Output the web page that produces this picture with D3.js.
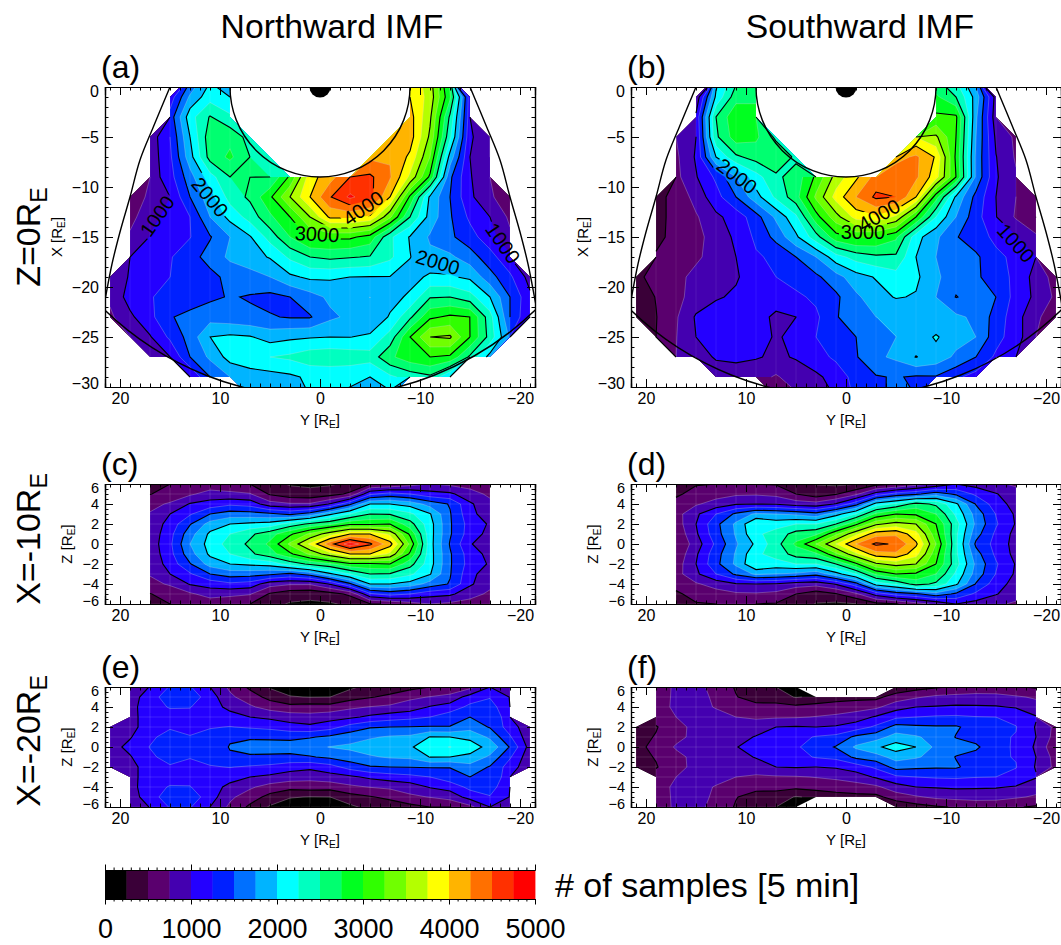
<!DOCTYPE html>
<html>
<head>
<meta charset="utf-8">
<style>
  html, body { margin: 0; background: #fff; overflow: hidden; }
  text { font-family: "Liberation Sans", Arial, sans-serif; fill: #000; }
  .domain { stroke: #000; stroke-width: 1.2; }
  .tick line { stroke: #000; stroke-width: 1; }
</style>
<script src="https://cdn.jsdelivr.net/npm/d3@7"></script>
</head>
<body>
<script>
var N = null;

var levels = d3.range(0, 5000, 250);
var bandColors = ["#000000", "#3a0038", "#5a006e", "#4400b0", "#2400ff", "#0020ff", "#0070ff", "#00b4ff", "#00ffff", "#00ffc0",
                  "#00ff70", "#00ff20", "#30ff00", "#70ff00", "#b4ff00", "#ffff00", "#ffb400", "#ff7000", "#ff3000", "#ff0000"];

// Y of the grid columns in the wide panels and in (c)/(d), X and Z of the rows
var colsWide = d3.range(21, -22, -2);
var colsNarrow = d3.range(17, -18, -2);
var rowsX = d3.range(1, -32, -2);
var rowsZ = d3.range(6, -7, -1);

var panelA = [
  [N,N,N,N,1400,1950,1800,N,N,N,N,N,N,N,N,3950,3600,2650,N,N,N,N],
  [N,N,N,1100,1800,2150,2000,N,N,N,N,N,N,N,N,4000,3650,2800,1100,N,N,N],
  [N,N,N,1350,2150,2520,2300,N,N,N,N,N,N,N,N,4100,3550,2450,1100,N,N,N],
  [N,N,850,1250,2000,2650,2680,2400,N,N,N,N,N,N,4200,4120,3450,2300,1050,750,N,N],
  [N,N,850,1200,1900,2600,2800,2500,2300,N,N,N,N,4200,4230,3950,3250,1900,1000,750,N,N],
  [N,N,850,1150,1650,2150,2500,2500,2500,3050,3900,4150,4500,4550,4280,3700,2950,1550,1020,800,N,N],
  [N,600,800,1000,1500,1900,2350,2550,2950,3500,4000,4480,4800,4600,4000,2950,1950,1500,1050,800,550,N],
  [N,650,950,1050,1250,1750,2080,2350,2700,3000,3500,4050,4050,3950,3300,2500,1900,1530,1200,1000,700,N],
  [N,800,1010,1150,1240,1480,1750,1980,2350,2750,3050,3050,3050,2900,2300,1980,1720,1550,1350,1100,800,N],
  [N,1000,1150,1230,1400,1600,1800,1900,2020,2300,2500,2560,2520,2480,2300,2010,1800,1800,1620,1350,1050,N],
  [850,1020,1180,1250,1300,1420,1580,1650,1750,1950,2050,2040,2000,1990,1990,1900,2050,2030,1950,1600,1300,900],
  [800,1100,1240,1300,1350,1450,1520,1480,1430,1500,1650,1800,1780,1750,1900,2050,2480,2500,2350,2000,1500,1050],
  [700,950,1180,1480,1580,1650,1600,1550,1520,1480,1480,1700,1800,1760,2030,2450,2950,3050,3000,2350,1500,1000],
  [N,850,980,1300,1600,2000,2050,2020,1900,1950,1980,2000,1995,2050,2350,3000,3500,3540,3000,2400,1700,N],
  [N,N,750,1000,1500,1800,2100,2200,2250,2300,2400,2430,2400,2350,2700,2900,3000,2950,2450,1900,N,N],
  [N,N,N,N,1000,1500,1750,1850,1900,1950,2050,2050,2050,2000,2200,2350,2450,2000,N,N,N,N],
  [N,N,N,N,N,N,N,1900,1900,1950,2000,2000,1950,1900,1900,N,N,N,N,N,N,N]
];

var panelB = [
  [N,N,N,N,1900,2400,2450,N,N,N,N,N,N,N,N,2500,2200,1600,N,N,N,N],
  [N,N,N,800,2050,2650,2700,N,N,N,N,N,N,N,N,2800,2500,1900,900,N,N,N],
  [N,N,N,1050,2500,2950,2850,N,N,N,N,N,N,N,N,3050,3050,1800,850,N,N,N],
  [N,N,750,1000,2450,2880,2800,2450,N,N,N,N,N,N,3750,3550,3000,1750,950,700,N,N],
  [N,N,700,1030,2000,2450,2600,2700,2450,N,N,N,N,4150,4300,3970,2950,1700,1010,720,N,N],
  [N,N,680,980,1300,1750,2150,2450,2600,3050,3600,3950,4350,4450,4300,3850,3000,1700,1030,780,N,N],
  [N,450,550,850,1150,1500,1900,2300,2650,3300,3850,4250,4550,4500,4000,2850,1950,1420,1000,750,550,N],
  [N,460,540,720,950,1100,1400,1800,2200,2900,3400,3850,3950,3700,3000,2250,1750,1350,1010,720,500,N],
  [N,450,560,680,850,1050,1300,1580,1950,2400,2900,3050,3000,2800,2100,1800,1520,1350,1200,1020,800,N],
  [N,520,620,720,820,1000,1220,1300,1500,1750,2150,2350,2450,2450,2000,1750,1650,1550,1300,1200,1000,N],
  [420,620,700,800,880,980,1100,1250,1350,1450,1650,1900,2020,2150,2050,1800,1600,1550,1350,1200,900,650],
  [360,510,680,850,980,1030,1050,1100,1200,1300,1450,1700,1900,2020,1980,1750,1490,1600,1500,1150,950,700],
  [280,490,720,1030,1100,1120,1080,960,1000,1200,1480,1650,1750,1760,1760,1800,1800,1700,1400,1100,800,600],
  [N,500,740,1000,1120,1160,1100,975,1060,1250,1450,1500,1600,1750,1850,2030,1850,1750,1350,1100,800,N],
  [N,N,750,830,1040,1050,1020,960,1020,1150,1300,1480,1700,1800,2010,1900,1700,1500,1200,1020,N,N],
  [N,N,N,N,800,880,850,720,880,950,1100,1350,1480,1520,1470,1480,1300,1150,N,N,N,N],
  [N,N,N,N,N,N,N,550,700,800,1020,1300,1400,1600,1500,N,N,N,N,N,N,N]
];

var panelC = [
  [380,500,560,600,600,500,320,230,210,220,300,480,520,650,750,700,650,550],
  [490,600,710,850,800,770,470,350,320,400,550,1200,1350,1250,1100,1050,850,700],
  [680,780,1020,1100,1200,1150,850,780,780,1020,1450,2000,2000,1900,1650,1480,1040,820],
  [770,1000,1220,1500,1620,1600,1550,1450,1600,1950,2250,2500,2480,2300,2020,1520,1080,850],
  [820,1100,1480,1850,2000,2050,2100,2350,2550,2700,2950,2950,3000,2600,2100,1530,1150,970],
  [830,1170,1650,2050,2250,2450,2650,2950,3300,3650,4000,4000,3700,2950,2100,1530,1130,920],
  [850,1200,1750,2100,2350,2550,2800,3300,3800,4400,4900,4550,4100,3200,2100,1480,1020,850],
  [830,1170,1650,2050,2250,2450,2650,2950,3300,3650,4000,4000,3700,2950,2100,1530,1130,920],
  [820,1100,1480,1850,2000,2050,2100,2350,2550,2700,2950,2950,3000,2600,2100,1530,1150,970],
  [770,1000,1220,1500,1620,1600,1550,1450,1600,1950,2250,2500,2480,2300,2020,1520,1080,850],
  [680,780,1020,1100,1200,1150,850,780,780,1020,1450,2000,2000,1900,1650,1480,1040,820],
  [490,600,710,850,800,770,470,350,320,400,550,1200,1350,1250,1100,1050,850,700],
  [380,500,560,600,600,500,320,230,210,220,300,480,520,650,750,700,650,550]
];

var panelD = [
  [350,480,500,520,500,480,350,240,200,240,420,480,650,800,1000,900,780,720],
  [450,600,650,710,720,680,500,350,480,700,1100,1350,1450,1650,1450,1200,1020,830],
  [600,720,850,980,1000,980,880,850,1020,1400,2100,2300,2600,2450,2050,1480,1120,900],
  [650,950,1250,1550,1800,1750,1700,1580,1900,2250,2800,3000,2950,2750,2200,1650,1240,960],
  [620,1000,1430,1800,2250,2150,2250,2250,2500,2950,3450,3600,3500,3000,2350,1700,1280,980],
  [560,960,1400,1780,2200,2350,2600,2700,3200,3700,4150,4200,3850,3100,2300,1600,1200,920],
  [505,870,1300,1720,2050,2400,2800,3250,3750,4250,4550,4470,4050,3250,2300,1450,1170,900],
  [560,960,1400,1780,2200,2350,2600,2700,3200,3700,4150,4200,3850,3100,2300,1600,1200,920],
  [620,1000,1430,1800,2250,2150,2250,2250,2500,2950,3450,3600,3500,3000,2350,1700,1280,980],
  [650,950,1250,1550,1800,1750,1700,1580,1900,2250,2800,3000,2950,2750,2200,1650,1240,960],
  [600,720,850,980,1000,980,880,850,1020,1400,2100,2300,2600,2450,2050,1480,1120,900],
  [450,600,650,710,720,680,500,350,480,700,1100,1350,1450,1650,1450,1200,1020,830],
  [350,480,500,520,500,480,350,240,200,240,420,480,650,800,1000,900,780,720]
];

var panelE = [
  [N,850,1010,1270,1270,1000,700,450,220,100,80,100,200,320,350,420,500,500,680,1000,950,N],
  [N,880,1130,1400,1400,1120,800,620,420,270,240,250,400,480,560,700,760,850,1100,1230,990,N],
  [N,880,1200,1260,1260,1120,930,790,650,580,620,600,700,760,800,870,1020,1100,1320,1380,1000,N],
  [N,880,1180,1200,1180,1100,1100,1000,950,880,830,900,950,1050,1130,1180,1250,1400,1500,1450,1100,N],
  [820,900,1150,1220,1200,1230,1260,1220,1180,1100,1060,1150,1350,1480,1500,1510,1520,1510,1650,1480,1130,820],
  [830,980,1200,1350,1260,1350,1480,1490,1480,1450,1480,1550,1640,1720,1780,1800,2010,2000,1950,1700,1280,830],
  [900,1070,1260,1400,1370,1400,1510,1530,1550,1600,1680,1760,1800,1880,1900,1970,2150,2260,2100,1930,1480,900],
  [830,980,1200,1350,1260,1350,1480,1490,1480,1450,1480,1550,1640,1720,1780,1800,2010,2000,1950,1700,1280,830],
  [820,900,1150,1220,1200,1230,1260,1220,1180,1100,1060,1150,1350,1480,1500,1510,1520,1510,1650,1480,1130,820],
  [N,880,1180,1200,1180,1100,1100,1000,950,880,830,900,950,1050,1130,1180,1250,1400,1500,1450,1100,N],
  [N,880,1200,1260,1260,1120,930,790,650,580,620,600,700,760,800,870,1020,1100,1320,1380,1000,N],
  [N,880,1130,1400,1400,1120,800,620,420,270,240,250,400,480,560,700,760,850,1100,1230,990,N],
  [N,850,1010,1270,1270,1000,700,450,220,100,80,100,200,320,350,420,500,500,680,1000,950,N]
];

var panelF = [
  [N,600,800,850,640,480,350,250,120,N,N,N,N,300,400,470,520,560,560,520,470,N],
  [N,620,800,850,700,510,420,380,230,300,400,430,430,620,720,800,830,850,840,780,720,N],
  [N,640,800,850,730,620,560,580,560,600,610,640,700,900,1000,1020,1040,1030,1020,980,850,N],
  [N,620,750,840,850,750,700,720,730,760,800,880,1030,1200,1250,1280,1290,1260,1250,1180,1020,N],
  [400,480,680,810,880,900,930,1000,1020,1000,1030,1120,1300,1600,1550,1530,1530,1400,1330,1260,980,680],
  [400,520,700,800,870,950,1010,1120,1170,1270,1320,1560,1650,1850,1780,1660,1490,1400,1280,1240,1000,650],
  [380,620,770,850,900,990,1100,1150,1220,1360,1520,1790,1950,2120,2000,1690,1600,1550,1300,1230,960,550],
  [400,520,700,800,870,950,1010,1120,1170,1270,1320,1560,1650,1850,1780,1660,1490,1400,1280,1240,1000,650],
  [400,480,680,810,880,900,930,1000,1020,1000,1030,1120,1300,1600,1550,1530,1530,1400,1330,1260,980,680],
  [N,620,750,840,850,750,700,720,730,760,800,880,1030,1200,1250,1280,1290,1260,1250,1180,1020,N],
  [N,640,800,850,730,620,560,580,560,600,610,640,700,900,1000,1020,1040,1030,1020,980,850,N],
  [N,620,800,850,700,510,420,380,230,300,400,430,430,620,720,800,830,850,840,780,720,N],
  [N,600,800,850,640,480,350,250,120,N,N,N,N,300,400,470,520,560,560,520,470,N]
];

// magnetopause flank; mirrored for the other side
var flankY = [14.6, 15, 16.67, 18, 19, 20, 20.8, 21.5, 22];
var flankX = [1, 0, -4, -7.3, -11, -14.5, -17.7, -21.3, -24];

var labelsA = [
  {t: "1000", y: 16.3, x: -12.9, a: -55}, {t: "2000", y: 11, x: -11, a: 50}, {t: "3000", y: 0.3, x: -14.7, a: 3},
  {t: "4000", y: -4.3, x: -12.1, a: -35}, {t: "2000", y: -11.8, x: -17.5, a: 17}, {t: "1000", y: -18.3, x: -15.6, a: 55}
];
var labelsB = [
  {t: "2000", y: 10.9, x: -8.9, a: 37}, {t: "3000", y: -1.7, x: -14.5, a: 0},
  {t: "4000", y: -3.3, x: -12.8, a: -30}, {t: "1000", y: -17, x: -15.6, a: 48}
];

var svg = d3.select("body").append("svg")
    .attr("width", 1061)
    .attr("height", 945)
    .style("display", "block");

function subE(sel) {
    sel.append("tspan").attr("dy", "0.3em").style("font-size", "0.68em").text("E");
}

function drawPanel(id, o) {
    var x = d3.scaleLinear().domain([21.5, -21.5]).range([o.left, o.left + 430]);
    var y = d3.scaleLinear().domain(o.yDomain).range([o.top, o.top + o.h]);
    var dx = o.cols.length + 2, dy = o.rows.length + 2;

    // blank ring around the grid so the fill stops on the outer cell centres
    var flat = [];
    for (var j = -1; j <= o.rows.length; j++) {
        for (var i = -1; i <= o.cols.length; i++) {
            var row = o.values[j];
            flat.push(row && row[i] != null ? row[i] : null);
        }
    }

    var gridX = d3.scaleLinear().domain([1.5, o.cols.length + 0.5]).range([o.cols[0], o.cols[o.cols.length - 1]]);
    var gridY = d3.scaleLinear().domain([1.5, o.rows.length + 0.5]).range([o.rows[0], o.rows[o.rows.length - 1]]);
    var path = d3.geoPath(d3.geoTransform({
        point: function(a, b) { this.stream.point(x(gridX(a)), y(gridY(b))); }
    }));

    var contours = d3.contours().size([dx, dy]).smooth(true);
    var g = svg.append("g");

    svg.append("clipPath").attr("id", "clip-" + id).append("rect")
        .attr("x", o.left).attr("y", o.top).attr("width", 430).attr("height", o.h);
    var plot = g.append("g").attr("clip-path", "url(#clip-" + id + ")");

    plot.selectAll("path.band")
        .data(contours.thresholds(levels)(flat))
      .enter().append("path")
        .attr("class", "band")
        .attr("d", path)
        .attr("fill", function(d, i) { return bandColors[i]; });

    // seams of the grid show through the fill
    var hull = contours.thresholds([0])(flat)[0];
    svg.append("clipPath").attr("id", "hull-" + id).append("path").attr("d", path(hull));
    var seams = plot.append("g").attr("clip-path", "url(#hull-" + id + ")")
        .attr("stroke", "#fff").attr("stroke-opacity", o.seam).attr("stroke-width", 0.7);
    seams.selectAll("line.v").data(o.cols).enter().append("line").attr("class", "v")
        .attr("x1", function(d) { return x(d); }).attr("x2", function(d) { return x(d); })
        .attr("y1", o.top).attr("y2", o.top + o.h);
    if (o.hSeams) {
        seams.selectAll("line.h").data(o.rows).enter().append("line").attr("class", "h")
            .attr("y1", function(d) { return y(d); }).attr("y2", function(d) { return y(d); })
            .attr("x1", o.left).attr("x2", o.left + 430);
    }

    function onCentre(c) { return Math.abs(c - Math.floor(c) - 0.5) < 1e-9; }

    // contour segments without the parts running along the edge of the data
    function lineGeometry(t) {
        var c = contours.thresholds([t + 0.5])(flat)[0], out = [];
        c.coordinates.forEach(function(poly) {
            poly.forEach(function(ring) {
                var cur = [];
                for (var k = 1; k < ring.length; k++) {
                    var p = ring[k - 1], q = ring[k];
                    var edge = (p[0] === q[0] && onCentre(p[0])) || (p[1] === q[1] && onCentre(p[1])) ||
                        (onCentre(p[0]) && onCentre(p[1]) && onCentre(q[0]) && onCentre(q[1]));
                    if (edge) {
                        if (cur.length) out.push(cur);
                        cur = [];
                    } else {
                        if (!cur.length) cur.push(p);
                        cur.push(q);
                    }
                }
                if (cur.length) out.push(cur);
            });
        });
        return {type: "MultiLineString", coordinates: out};
    }

    plot.selectAll("path.thin")
        .data(levels.filter(function(l) { return l % 500 !== 0; }))
      .enter().append("path")
        .attr("class", "thin")
        .attr("d", function(l) { return path(lineGeometry(l)); })
        .attr("fill", "none").attr("stroke", "#d8d8d8").attr("stroke-opacity", 0.5).attr("stroke-width", 0.6);

    // gaps in the black lines where the labels sit
    var labels = o.labels || [];
    var mask = svg.append("mask").attr("id", "mask-" + id).attr("maskUnits", "userSpaceOnUse")
        .attr("x", 0).attr("y", 0).attr("width", 1061).attr("height", 945);
    mask.append("rect").attr("width", 1061).attr("height", 945).attr("fill", "#fff");
    mask.selectAll("rect.gap").data(labels).enter().append("rect").attr("class", "gap")
        .attr("x", -24).attr("y", -10).attr("width", 48).attr("height", 20).attr("fill", "#000")
        .attr("transform", function(d) { return "translate(" + x(d.y) + "," + y(d.x) + ") rotate(" + d.a + ")"; });

    plot.append("g").attr("mask", "url(#mask-" + id + ")")
      .selectAll("path.major")
        .data(levels.filter(function(l) { return l > 0 && l % 500 === 0; }))
      .enter().append("path")
        .attr("class", "major")
        .attr("d", function(l) { return path(lineGeometry(l)); })
        .attr("fill", "none").attr("stroke", "#000").attr("stroke-width", 1.15);

    plot.selectAll("text.clabel").data(labels).enter().append("text").attr("class", "clabel")
        .attr("text-anchor", "middle").attr("dy", "0.36em")
        .style("font-size", "20px")
        .attr("transform", function(d) { return "translate(" + x(d.y) + "," + y(d.x) + ") rotate(" + d.a + ")"; })
        .text(function(d) { return d.t; });

    if (o.earth) {
        var r = function(v) { return x(0) - x(v); };
        plot.append("circle").attr("cx", x(0)).attr("cy", y(0)).attr("r", r(9))
            .attr("fill", "none").attr("stroke", "#000").attr("stroke-width", 1.4);
        plot.append("circle").attr("cx", x(0)).attr("cy", y(0)).attr("r", r(1.05)).attr("fill", "#000");
        plot.append("circle").attr("cx", x(0)).attr("cy", y(0)).attr("r", r(31))
            .attr("fill", "none").attr("stroke", "#000").attr("stroke-width", 1.4);
        [1, -1].forEach(function(side) {
            var line = d3.line()
                .x(function(d, i) { return x(side * d); })
                .y(function(d, i) { return y(flankX[i]); })
                .curve(d3.curveCatmullRom);
            plot.append("path").attr("d", line(flankY))
                .attr("fill", "none").attr("stroke", "#000").attr("stroke-width", 1.4);
        });
    }

    // axes: ticks point inward on all four sides
    var frame = g.append("g");
    var xMinor = d3.range(-21, 22), xMajor = [20, 10, 0, -10, -20];
    var bottom = "translate(0," + (o.top + o.h) + ")", top = "translate(0," + o.top + ")";
    var leftT = "translate(" + o.left + ",0)", rightT = "translate(" + (o.left + 430) + ",0)";

    frame.append("g").attr("transform", bottom).call(d3.axisBottom(x).tickValues(xMinor).tickSize(-3.5).tickFormat(""));
    frame.append("g").attr("transform", bottom).call(d3.axisBottom(x).tickValues(xMajor).tickSize(-8).tickFormat(""));
    frame.append("g").attr("transform", top).call(d3.axisTop(x).tickValues(xMinor).tickSize(-3.5).tickFormat(""));
    frame.append("g").attr("transform", top).call(d3.axisTop(x).tickValues(xMajor).tickSize(-8).tickFormat(""));
    frame.append("g").attr("transform", leftT).call(d3.axisLeft(y).tickValues(o.yMinor).tickSize(-3.5).tickFormat(""));
    frame.append("g").attr("transform", leftT).call(d3.axisLeft(y).tickValues(o.yMajor).tickSize(-8).tickFormat(""));
    frame.append("g").attr("transform", rightT).call(d3.axisRight(y).tickValues(o.yMinor).tickSize(-3.5).tickFormat(""));
    frame.append("g").attr("transform", rightT).call(d3.axisRight(y).tickValues(o.yMajor).tickSize(-8).tickFormat(""));

    var xLabels = frame.append("g").attr("transform", bottom)
        .call(d3.axisBottom(x).tickValues(xMajor).tickSize(0).tickPadding(6));
    var yLabels = frame.append("g").attr("transform", leftT)
        .call(d3.axisLeft(y).tickValues(o.yMajor).tickSize(0).tickPadding(6));
    xLabels.select(".domain").remove();
    yLabels.select(".domain").remove();
    xLabels.selectAll("text").style("font-size", "16px");
    yLabels.selectAll("text").style("font-size", o.yFont)
        .attr("y", function(d, i, n) { return i === 0 ? 4 : (i === n.length - 1 ? -3.5 : 0); });

    var xt = frame.append("text").attr("text-anchor", "middle").style("font-size", "15px")
        .attr("x", x(0)).attr("y", o.top + o.h + 38).text("Y [R");
    subE(xt);
    xt.append("tspan").attr("dy", "-0.2em").text("]");

    var yt = frame.append("text").attr("text-anchor", "middle").style("font-size", "15px")
        .attr("transform", "translate(" + (o.left - o.yTitle) + "," + (o.top + o.h / 2) + ") rotate(-90)")
        .text(o.yName + " [R");
    subE(yt);
    yt.append("tspan").attr("dy", "-0.2em").text("]");

    g.append("text").attr("x", o.left - 4).attr("y", o.top - 9).style("font-size", "32px").text(o.tag);
}

var xAxisCfg = {yDomain: [0, -30], h: 300, rows: rowsX, cols: colsWide, yMajor: d3.range(0, -31, -5), yMinor: d3.range(0, -31, -1),
    yName: "X", yTitle: 43, seam: 0.12, earth: true, yFont: "16px"};
var zAxisCfg = {yDomain: [6, -6], h: 120, rows: rowsZ, yMajor: d3.range(6, -7, -2), yMinor: d3.range(6, -6.5, -0.5),
    yName: "Z", yTitle: 33, seam: 0.18, hSeams: true, yFont: "14.5px"};

drawPanel("a", Object.assign({}, xAxisCfg, {left: 105, top: 87, tag: "(a)", values: panelA, labels: labelsA}));
drawPanel("b", Object.assign({}, xAxisCfg, {left: 631, top: 87, tag: "(b)", values: panelB, labels: labelsB}));
drawPanel("c", Object.assign({}, zAxisCfg, {left: 105, top: 484, tag: "(c)", values: panelC, cols: colsNarrow}));
drawPanel("d", Object.assign({}, zAxisCfg, {left: 631, top: 484, tag: "(d)", values: panelD, cols: colsNarrow}));
drawPanel("e", Object.assign({}, zAxisCfg, {left: 105, top: 687, tag: "(e)", values: panelE, cols: colsWide}));
drawPanel("f", Object.assign({}, zAxisCfg, {left: 631, top: 687, tag: "(f)", values: panelF, cols: colsWide}));

// column titles and row titles
svg.append("text").attr("x", 332).attr("y", 38).attr("text-anchor", "middle").style("font-size", "33.7px").text("Northward IMF");
svg.append("text").attr("x", 860).attr("y", 38).attr("text-anchor", "middle").style("font-size", "33.7px").text("Southward IMF");

[{t: "Z=0R", cy: 237}, {t: "X=-10R", cy: 539}, {t: "X=-20R", cy: 741}].forEach(function(d) {
    var s = svg.append("text").attr("text-anchor", "middle").style("font-size", "34px")
        .attr("transform", "translate(40," + d.cy + ") rotate(-90)").text(d.t);
    s.append("tspan").attr("dy", "0.3em").style("font-size", "0.68em").text("E");
});

// colour bar
var cbar = d3.scaleLinear().domain([0, 5000]).range([105, 535]);
svg.selectAll("rect.swatch").data(levels).enter().append("rect").attr("class", "swatch")
    .attr("x", function(d) { return cbar(d); })
    .attr("width", function(d) { return cbar(d + 250) - cbar(d) + 0.4; })
    .attr("y", 870).attr("height", 29)
    .attr("fill", function(d, i) { return bandColors[i]; });

var cMinor = d3.range(0, 5001, 100), cMajor = d3.range(0, 5001, 1000);
svg.append("g").attr("transform", "translate(0,870)").call(d3.axisTop(cbar).tickValues(cMinor).tickSize(2.5).tickFormat("").tickSizeOuter(0));
svg.append("g").attr("transform", "translate(0,870)").call(d3.axisTop(cbar).tickValues(cMajor).tickSize(5.5).tickFormat("").tickSizeOuter(0));
svg.append("g").attr("transform", "translate(0,899)").call(d3.axisBottom(cbar).tickValues(cMinor).tickSize(2.5).tickFormat("").tickSizeOuter(0));
var cLabels = svg.append("g").attr("transform", "translate(0,899)")
    .call(d3.axisBottom(cbar).tickValues(cMajor).tickSize(5.5).tickPadding(14).tickFormat(d3.format("d")).tickSizeOuter(0));
cLabels.selectAll("text").style("font-size", "27px");

svg.append("text").attr("x", 555).attr("y", 897).style("font-size", "34px").text("# of samples [5 min]");
</script>
</body>
</html>
